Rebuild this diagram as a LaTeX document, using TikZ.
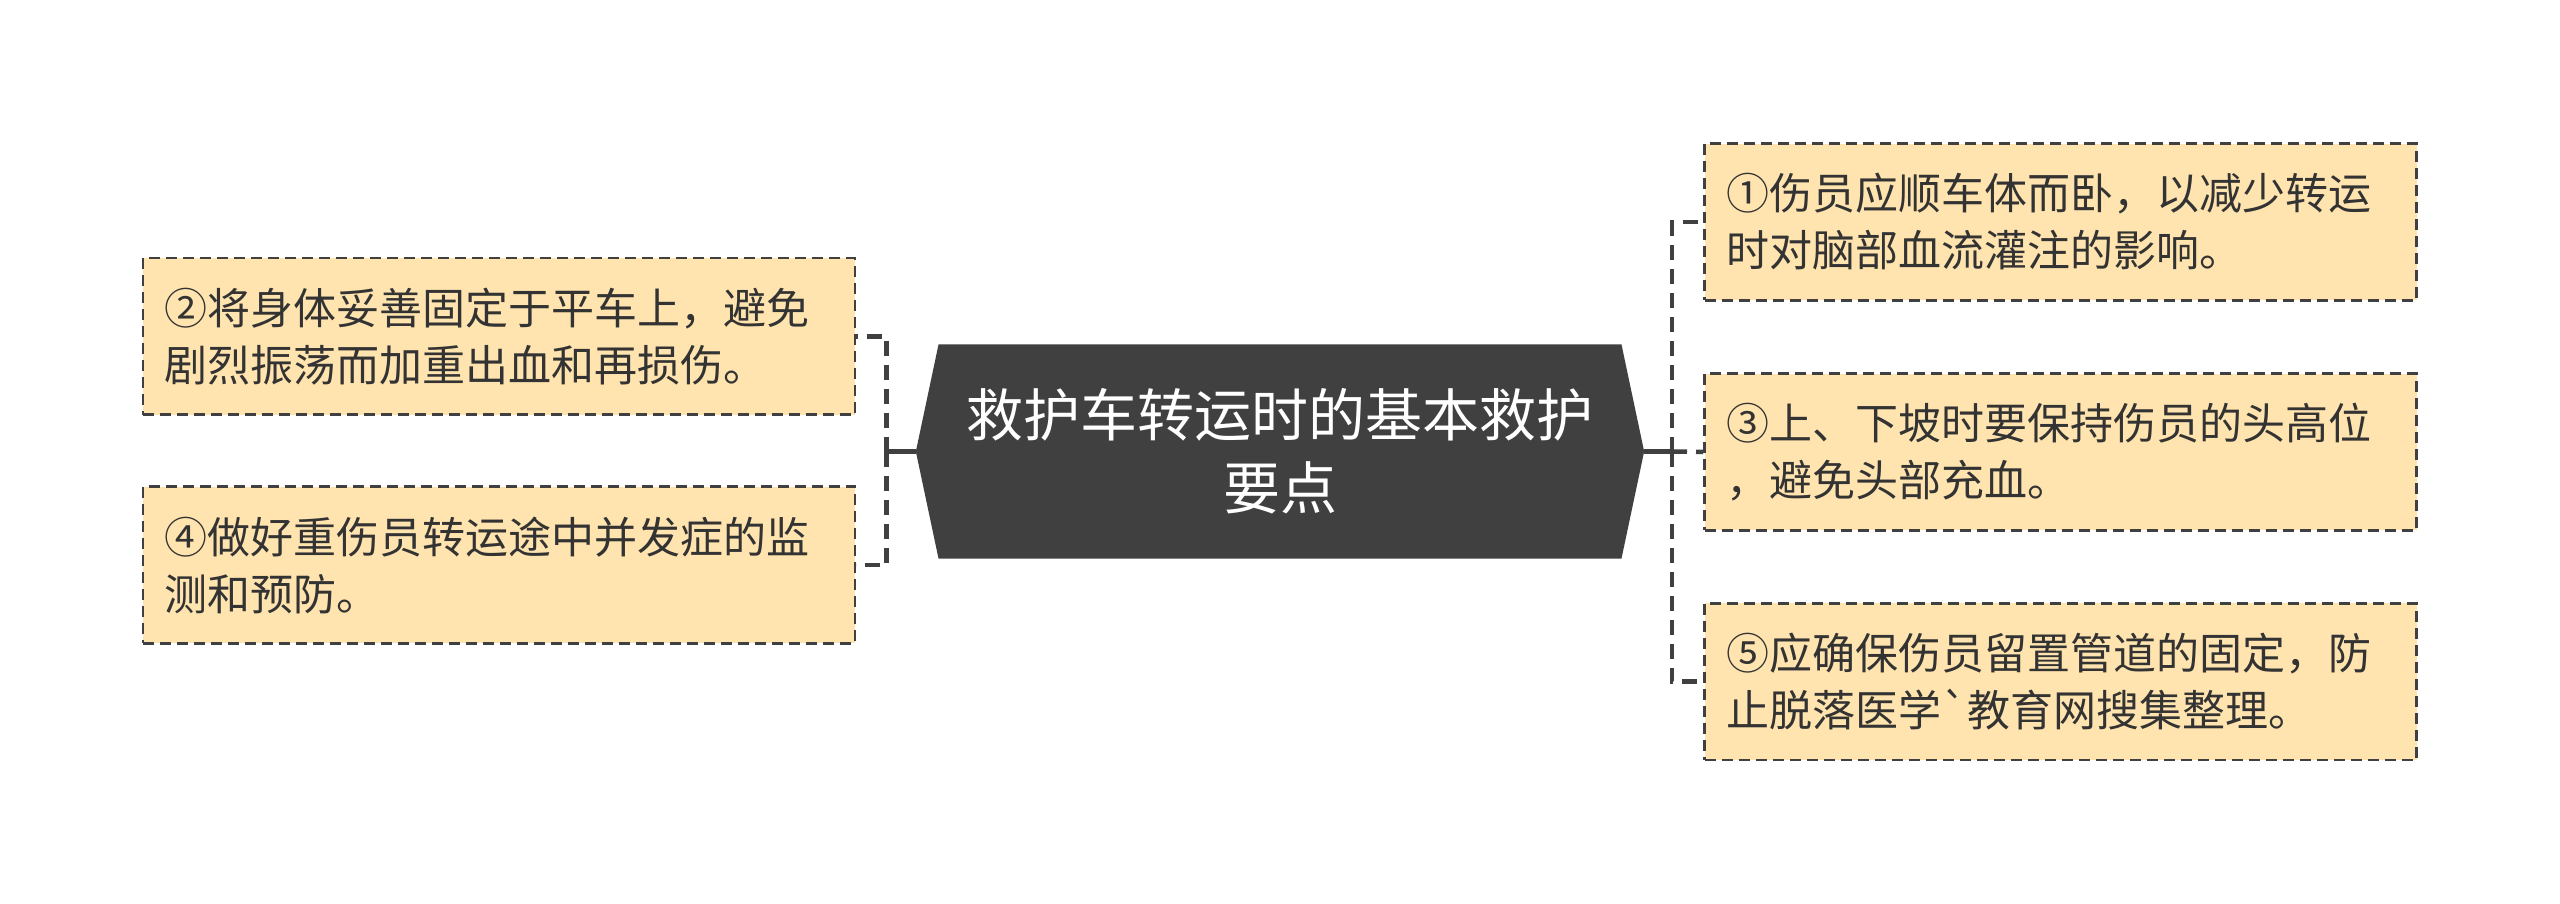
\documentclass[tikz,border=0pt]{standalone}
\usepackage{fontspec}
\newfontfamily\cjk{Noto Sans CJK SC}
\usetikzlibrary{backgrounds}
\definecolor{boxfill}{HTML}{FFE4AF}
\definecolor{dark}{HTML}{404040}
\definecolor{textc}{HTML}{333333}
\begin{document}
\begin{tikzpicture}[x=1pt,y=-1pt,
  leaf/.style={draw=dark, fill=boxfill, line width=2.6pt, dash pattern=on 11pt off 6pt,
    minimum height=156.7pt, text width=668pt, inner xsep=22pt, inner ysep=0pt, align=left,
    font=\cjk\fontsize{43}{57}\selectfont, text=textc},
  rootbox/.style={minimum width=682.5pt, minimum height=214pt, inner sep=0pt, align=center,
    font=\cjk\fontsize{57}{73}\selectfont, text=white},
  conn/.style={draw=dark, line width=4.5pt, dash pattern=on 15pt off 9pt},
  stem/.style={draw=dark, line width=4.5pt}]
\useasboundingbox (0,0) rectangle (2560,903);
\node[rootbox] (root) at (1280,451.5) {救护车转运时的基本救护\\要点};
\coordinate (rtip) at ([xshift=22.7pt]root.east);
\coordinate (ltip) at ([xshift=-22.7pt]root.west);
\begin{scope}[on background layer]
\fill[dark] (root.north west) -- (root.north east) -- (rtip) -- (root.south east)
  -- (root.south west) -- (ltip) -- cycle;
\end{scope}
\node[leaf] (r1) at (2060.5,222) {①伤员应顺车体而卧，以减少转运\\时对脑部血流灌注的影响。};
\node[leaf] (r2) at (2060.5,452) {③上、下坡时要保持伤员的头高位\\，避免头部充血。};
\node[leaf] (r3) at (2060.5,681.7) {⑤应确保伤员留置管道的固定，防\\止脱落医学\symbol{96}教育网搜集整理。};
\node[leaf] (l1) at (498.8,336.4) {②将身体妥善固定于平车上，避免\\剧烈振荡而加重出血和再损伤。};
\node[leaf] (l2) at (498.8,565) {④做好重伤员转运途中并发症的监\\测和预防。};
\coordinate (hubR) at (1672,451.5);
\coordinate (hubL) at (886.6,451.5);
\draw[stem] (rtip) -- (hubR);
\draw[stem] (ltip) -- (hubL);
\draw[conn] (hubR) |- (r1.west);
\draw[conn] (hubR) -- (r2.west);
\draw[conn] (hubR) |- (r3.west);
\draw[conn] (hubL) |- (l1.east);
\draw[conn] (hubL) |- (l2.east);
\end{tikzpicture}
\end{document}
